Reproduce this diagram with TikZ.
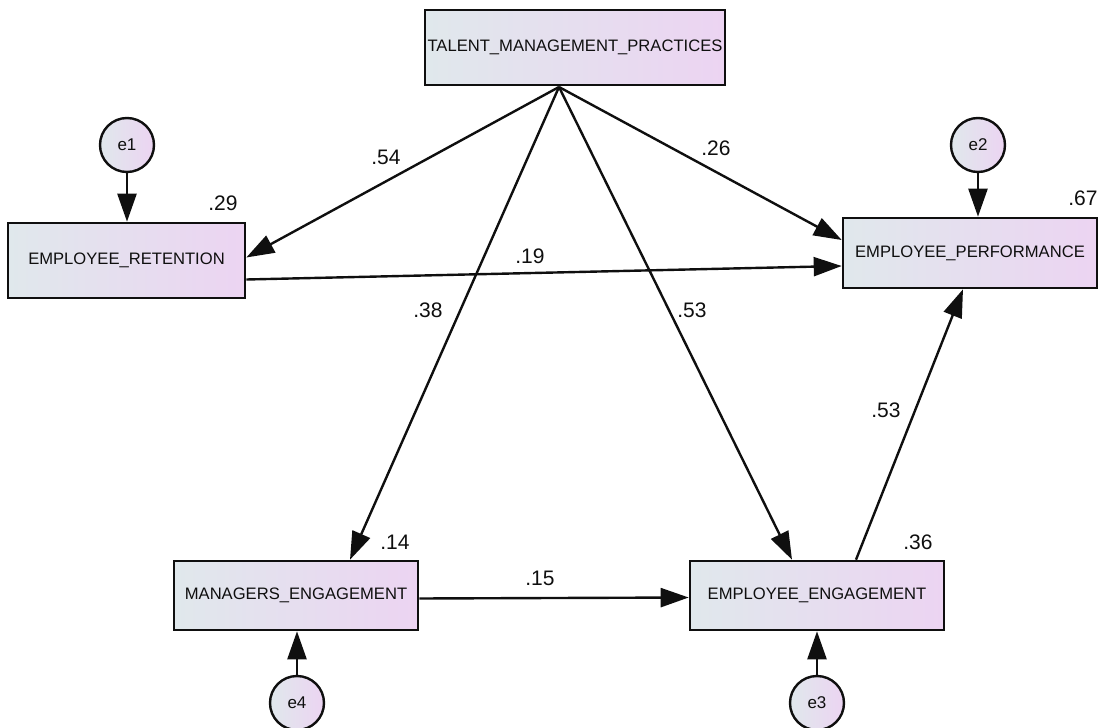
\documentclass[tikz,border=0pt]{standalone}
\usepackage{fontspec}
\setmainfont{Liberation Sans}
\usepackage{tikz}
\usetikzlibrary{arrows.meta, positioning, calc}
\usepackage{xcolor}
\definecolor{boxleft}{RGB}{224,232,236}
\definecolor{boxright}{RGB}{236,212,242}
\definecolor{ink}{RGB}{15,15,15}

\begin{document}
\begin{tikzpicture}[x=0.5pt, y=-0.5pt,
    var/.style={draw=ink, line width=1.3pt, left color=boxleft, right color=boxright,
      inner sep=0pt, font=\fontsize{8.3}{10}\selectfont, text=ink},
    err/.style={circle, draw=ink, line width=1.2pt, left color=boxleft, right color=boxright,
      minimum size=27pt, inner sep=0pt, font=\fontsize{8.5}{10}\selectfont, text=ink},
    lbl/.style={font=\fontsize{10.5}{12}\selectfont, text=ink, inner sep=0pt},
    path/.style={-{Triangle[length=14pt, width=9.5pt]}, line width=1.2pt, draw=ink}]
  \useasboundingbox (0,0) rectangle (1100,728);
  % observed variables
  \node[var, minimum width=150pt, minimum height=37.5pt] (tmp) at (575,47.5) {TALENT\_MANAGEMENT\_PRACTICES};
  \node[var, minimum width=118.5pt, minimum height=37.5pt] (er) at (126.5,260.5) {EMPLOYEE\_RETENTION};
  \node[var, minimum width=127pt, minimum height=35pt] (ep) at (970,253) {EMPLOYEE\_PERFORMANCE};
  \node[var, minimum width=122pt, minimum height=34.5pt] (me) at (296,595.5) {MANAGERS\_ENGAGEMENT};
  \node[var, minimum width=127pt, minimum height=34.5pt] (ee) at (817,595.5) {EMPLOYEE\_ENGAGEMENT};
  % error terms
  \node[err] (e1) at (127,145) {e1};
  \node[err] (e2) at (978,145) {e2};
  \node[err] (e3) at (817,703) {e3};
  \node[err] (e4) at (297,703) {e4};
  \coordinate (src) at (559,87);
  % paths
  \draw[path] (src) -- ($(er.east)+(0,-3)$);
  \draw[path] (src) -- ($(ep.west)+(0,-13)$);
  \draw[path] (src) -- ($(me.north)+(54,0)$);
  \draw[path] (src) -- ($(ee.north)+(-25,0)$);
  \draw[path] ($(er.east)+(0,19)$) -- ($(ep.west)+(0,13)$);
  \draw[path] ($(ee.north)+(39,0)$) -- ($(ep.south)+(-7,0)$);
  \draw[path] ($(me.east)+(0,3)$) -- ($(ee.west)+(0,2)$);
  \foreach \e/\v in {e1/er, e2/ep}
    \draw[path] (\e.south) -- (\e.south |- \v.north);
  \foreach \e/\v in {e3/ee, e4/me}
    \draw[path] (\e.north) -- (\e.north |- \v.south);
  % squared multiple correlations
  \node[lbl] (r29) at (223,203) {.29};
  \node[lbl] (r67) at (1083,198) {.67};
  \node[lbl] (r14) at (395,542) {.14};
  \node[lbl] (r36) at (918,542) {.36};
  % coefficients
  \node[lbl] (c54) at (386,157) {.54};
  \node[lbl] (c26) at (716,148) {.26};
  \node[lbl] (c19) at (530,256) {.19};
  \node[lbl] (c38) at (428,310) {.38};
  \node[lbl] (c53a) at (692,310) {.53};
  \node[lbl] (c53b) at (886,410) {.53};
  \node[lbl] (c15) at (540,578) {.15};
\end{tikzpicture}
\end{document}
